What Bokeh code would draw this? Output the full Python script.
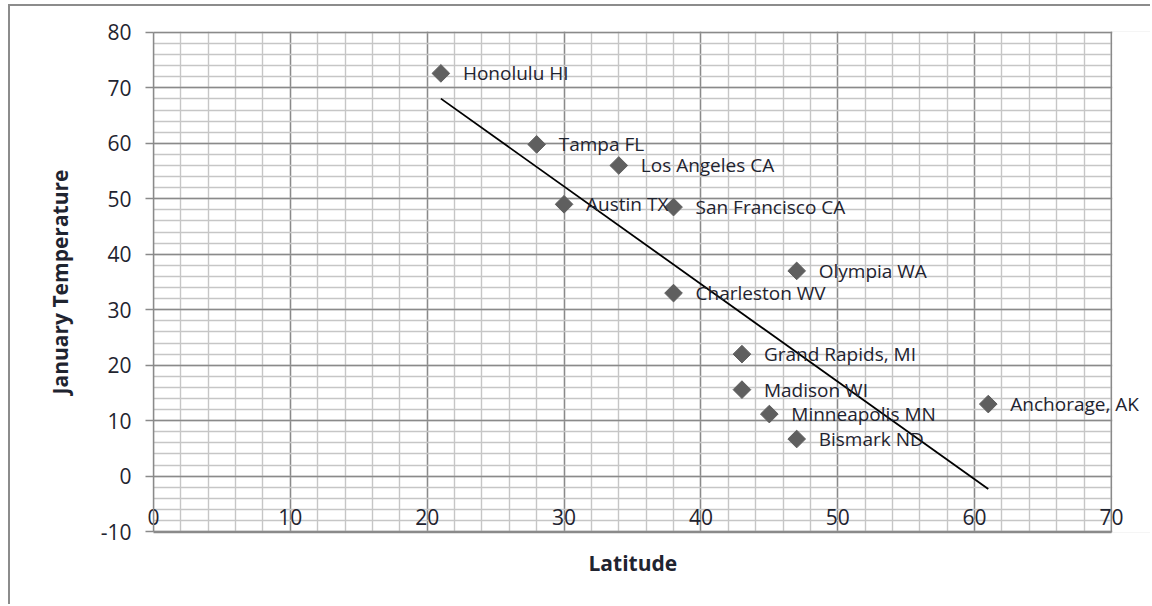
import numpy as np
from bokeh.plotting import figure
from bokeh.models import (ColumnDataSource, SingleIntervalTicker, Range1d, Label,
                          PrintfTickFormatter, BoxAnnotation, Title)
from bokeh.embed import file_html
from bokeh.resources import INLINE

# January average temperature vs. latitude for US cities
cities = ["Honolulu HI", "Tampa FL", "Los Angeles CA", "Austin TX", "San Francisco CA",
          "Olympia WA", "Charleston WV", "Grand Rapids, MI", "Madison WI",
          "Minneapolis MN", "Bismark ND", "Anchorage, AK"]
latitude = [21, 28, 34, 30, 38, 47, 38, 43, 43, 45, 47, 61]
jan_temp = [72.6, 59.8, 56.0, 49.0, 48.5, 37.0, 33.0, 22.0, 15.6, 11.2, 6.7, 13.0]

x_axis_bounds = (0, 70)
y_axis_bounds = (-10, 80)
x_ticks_interval = 10
y_ticks_interval = 10

FONT = "Open Sans"
TEXT_COLOR = "#1f2430"
MAJOR_GRID = "#8a8a8a"
MINOR_GRID = "#c6c6c6"

# the frame runs a little past the last x tick so the labels on the right have room
p = figure(width=1142, height=600, output_backend="svg", toolbar_location=None,
           x_range=Range1d(0, 73), y_range=Range1d(-10.15, 80.15),
           min_border_left=143, min_border_right=0, min_border_top=25, min_border_bottom=74)
# chart-area border on the left and top
p.styles = {"border-left": "2px solid #8c8c8c", "border-top": "2px solid #8c8c8c",
            "margin-left": "8px", "margin-top": "4px"}
p.background_fill_color = "white"
p.border_fill_color = "white"
p.outline_line_color = None

xt = SingleIntervalTicker(interval=x_ticks_interval, num_minor_ticks=5)
yt = SingleIntervalTicker(interval=y_ticks_interval, num_minor_ticks=5)
p.xaxis.ticker = xt
p.yaxis.ticker = yt
p.xgrid.ticker = xt
p.ygrid.ticker = yt
p.xaxis.bounds = x_axis_bounds
p.yaxis.bounds = y_axis_bounds
p.xaxis.formatter = PrintfTickFormatter(format="%d")
p.yaxis.formatter = PrintfTickFormatter(format="%d")

for g in (p.xgrid, p.ygrid):
    g.grid_line_color = MAJOR_GRID
    g.grid_line_width = 1.4
    g.minor_grid_line_color = MINOR_GRID
    g.minor_grid_line_width = 1.4

# blank out the grid to the right of the plot area
p.add_layout(BoxAnnotation(left=x_axis_bounds[1] + 0.06, right=80,
                           bottom=y_axis_bounds[0] - 5, top=y_axis_bounds[1] + 5,
                           fill_color="white", fill_alpha=1.0,
                           line_color=None, line_width=0, level="glyph"))

# plot-area border along the axis bounds
p.quad(left=[x_axis_bounds[0]], right=[x_axis_bounds[1]],
       bottom=[y_axis_bounds[0]], top=[y_axis_bounds[1]],
       fill_color=None, line_color=MAJOR_GRID, line_width=1.4)

# y axis
p.yaxis.axis_label = "January Temperature"
p.yaxis.axis_label_text_font = FONT
p.yaxis.axis_label_text_font_style = "bold"
p.yaxis.axis_label_text_font_size = "21px"
p.yaxis.axis_label_text_color = TEXT_COLOR
p.yaxis.axis_label_standoff = 24
p.yaxis.major_label_text_font = FONT
p.yaxis.major_label_text_font_size = "21px"
p.yaxis.major_label_text_color = TEXT_COLOR
p.yaxis.major_label_standoff = 14
p.yaxis.major_tick_out = 8
p.yaxis.major_tick_in = 0
p.yaxis.minor_tick_out = 0
p.yaxis.minor_tick_in = 0
p.yaxis.major_tick_line_color = MAJOR_GRID
p.yaxis.major_tick_line_width = 1.4
p.yaxis.axis_line_color = MAJOR_GRID
p.yaxis.axis_line_width = 1.4

# x axis: labels sit just above the bottom edge
p.xaxis.major_label_text_font = FONT
p.xaxis.major_label_text_font_size = "21px"
p.xaxis.major_label_text_color = TEXT_COLOR
p.xaxis.major_label_standoff = -24
p.xaxis.major_tick_out = 0
p.xaxis.major_tick_in = 0
p.xaxis.minor_tick_out = 0
p.xaxis.minor_tick_in = 0
p.xaxis.axis_line_color = MAJOR_GRID
p.xaxis.axis_line_width = 1.4

# x axis title, centred under the 0-70 span
p.add_layout(Title(text="Latitude", align="left", offset=435, vertical_align="top",
                   standoff=32, text_font=FONT, text_font_style="bold",
                   text_font_size="21px", text_color=TEXT_COLOR), "below")

# linear trendline
slope, intercept = np.polyfit(latitude, jan_temp, 1)
tx = [min(latitude), max(latitude)]
ty = [slope * v + intercept for v in tx]
p.line(tx, ty, line_color="black", line_width=1.8)

src = ColumnDataSource(dict(x=latitude, y=jan_temp, name=cities))
p.scatter("x", "y", source=src, marker="square", angle=np.pi / 4, size=12.5,
          fill_color="#5f5f5f", line_color="#5f5f5f")

# city name beside each point
for name, lat, temp in zip(cities, latitude, jan_temp):
    p.add_layout(Label(x=lat, y=temp, text=name, x_offset=22,
                       text_align="left", text_baseline="middle", text_font=FONT,
                       text_font_size="19px", text_color=TEXT_COLOR))

open("out.html", "w").write(file_html(p, INLINE))
